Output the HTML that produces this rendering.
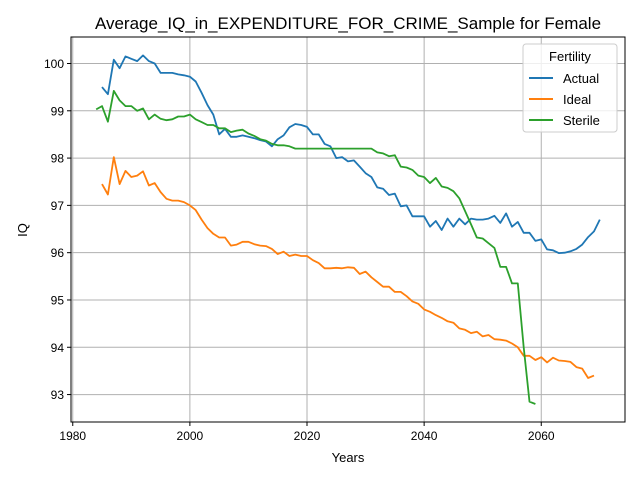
<!DOCTYPE html>
<html><head><meta charset="utf-8"><style>
body{margin:0;background:#fff;}
svg text{font-family:"Liberation Sans","DejaVu Sans",sans-serif;fill:#000;}
</style></head><body>
<svg id="chart" width="640" height="480" xmlns="http://www.w3.org/2000/svg">
<rect width="640" height="480" fill="#fff"/>
<text x="348" y="29" font-size="17" text-anchor="middle">Average_IQ_in_EXPENDITURE_FOR_CRIME_Sample for Female</text>
<g id="grid"></g>
<g id="series"></g>
<rect x="71" y="37" width="554" height="385" fill="none" stroke="#000" stroke-width="1"/>
<g id="ticks"></g>
<text x="348" y="462" font-size="13" text-anchor="middle">Years</text>
<text x="27" y="230" font-size="13" text-anchor="middle" transform="rotate(-90 27 230)">IQ</text>
<g>
<rect x="523" y="44" width="94" height="88" rx="3" fill="#fff" fill-opacity="0.8" stroke="#ccc"/>
<text x="570" y="61" font-size="13" text-anchor="middle">Fertility</text>
<g><line x1="529" y1="78" x2="553" y2="78" stroke="#1f77b4" stroke-width="2"/><text x="563" y="83" font-size="13">Actual</text></g>
<g><line x1="529" y1="99" x2="553" y2="99" stroke="#ff7f0e" stroke-width="2"/><text x="563" y="104" font-size="13">Ideal</text></g>
<g><line x1="529" y1="120" x2="553" y2="120" stroke="#2ca02c" stroke-width="2"/><text x="563" y="125" font-size="13">Sterile</text></g>
</g>
</svg>
<script>
const actualStart = 1985;
const actualValues = [99.5,99.35,100.08,99.9,100.15,100.1,100.05,100.17,100.05,100.0,99.8,99.8,99.8,99.77,99.75,99.72,99.62,99.38,99.12,98.92,98.5,98.62,98.45,98.45,98.48,98.45,98.42,98.38,98.35,98.25,98.4,98.48,98.65,98.72,98.7,98.66,98.5,98.5,98.3,98.25,98.0,98.02,97.93,97.95,97.82,97.68,97.6,97.38,97.35,97.22,97.25,96.98,97.0,96.77,96.77,96.77,96.55,96.67,96.48,96.72,96.55,96.72,96.6,96.72,96.7,96.7,96.72,96.78,96.63,96.83,96.55,96.65,96.42,96.42,96.25,96.28,96.07,96.05,95.99,96.0,96.03,96.08,96.17,96.33,96.45,96.7];
const idealStart = 1985;
const idealValues = [97.45,97.23,98.02,97.45,97.73,97.6,97.63,97.72,97.42,97.47,97.28,97.14,97.1,97.1,97.07,97.0,96.9,96.7,96.52,96.4,96.32,96.32,96.15,96.17,96.23,96.23,96.18,96.15,96.14,96.08,95.97,96.02,95.93,95.96,95.93,95.93,95.84,95.78,95.67,95.67,95.68,95.67,95.69,95.68,95.55,95.6,95.48,95.38,95.28,95.28,95.17,95.17,95.08,94.97,94.92,94.8,94.75,94.68,94.62,94.55,94.52,94.4,94.37,94.3,94.33,94.23,94.26,94.17,94.16,94.14,94.08,94.0,93.82,93.82,93.73,93.79,93.68,93.78,93.72,93.71,93.69,93.58,93.55,93.35,93.4];
const sterileStart = 1984;
const sterileValues = [99.03,99.1,98.77,99.42,99.22,99.1,99.1,99.0,99.05,98.82,98.92,98.83,98.8,98.82,98.88,98.88,98.92,98.82,98.76,98.7,98.7,98.63,98.63,98.55,98.58,98.6,98.52,98.47,98.4,98.37,98.3,98.27,98.27,98.25,98.2,98.2,98.2,98.2,98.2,98.2,98.2,98.2,98.2,98.2,98.2,98.2,98.2,98.2,98.12,98.1,98.04,98.06,97.82,97.8,97.75,97.63,97.6,97.47,97.58,97.4,97.37,97.3,97.15,96.88,96.6,96.32,96.3,96.2,96.1,95.7,95.7,95.35,95.35,94.0,92.85,92.8];
const xTicks = [1980,2000,2020,2040,2060];
const yTicks = [93,94,95,96,97,98,99,100];

const NS="http://www.w3.org/2000/svg";
const X0=71,X1=625,Y0=422,Y1=37, xmin=1979.7, xmax=2074.3, ymin=92.42, ymax=100.56;
function xs(v){return X0+(v-xmin)/(xmax-xmin)*(X1-X0);}
function ys(v){return Y0-(v-ymin)/(ymax-ymin)*(Y0-Y1);}
const grid=document.getElementById('grid'), ticks=document.getElementById('ticks'), series=document.getElementById('series');
function mk(tag,attrs,parent){const e=document.createElementNS(NS,tag);for(const k in attrs)e.setAttribute(k,attrs[k]);parent.appendChild(e);return e;}
xTicks.forEach(t=>{
  const x=xs(t);
  const g=mk('line',{x1:x,x2:x,y1:Y1,y2:Y0,stroke:'#b0b0b0','stroke-width':1},grid);
  
  
  mk('line',{x1:x,x2:x,y1:Y0,y2:Y0+4,stroke:'#000'},ticks);
  const tx=mk('text',{x:x,y:Y0+18,'font-size':12,'text-anchor':'middle'},ticks);
  tx.textContent=t;
  
  
});
yTicks.forEach(t=>{
  const y=ys(t);
  const g=mk('line',{x1:X0,x2:X1,y1:y,y2:y,stroke:'#b0b0b0','stroke-width':1},grid);
  
  
  mk('line',{x1:X0-4,x2:X0,y1:y,y2:y,stroke:'#000'},ticks);
  const tx=mk('text',{x:X0-7,y:y+4.5,'font-size':12,'text-anchor':'end'},ticks);
  tx.textContent=t;
  
  
});
function draw(start,vals,color,name){
  const pts=vals.map((v,i)=>xs(start+i).toFixed(1)+','+ys(v).toFixed(1)).join(' ');
  const p=mk('polyline',{points:pts,fill:'none',stroke:color,'stroke-width':1.8,'stroke-linejoin':'round'},series);
  
  
}
draw(actualStart,actualValues,'#1f77b4','actual-line');
draw(idealStart,idealValues,'#ff7f0e','ideal-line');
draw(sterileStart,sterileValues,'#2ca02c','sterile-line');
</script>
</body></html>
